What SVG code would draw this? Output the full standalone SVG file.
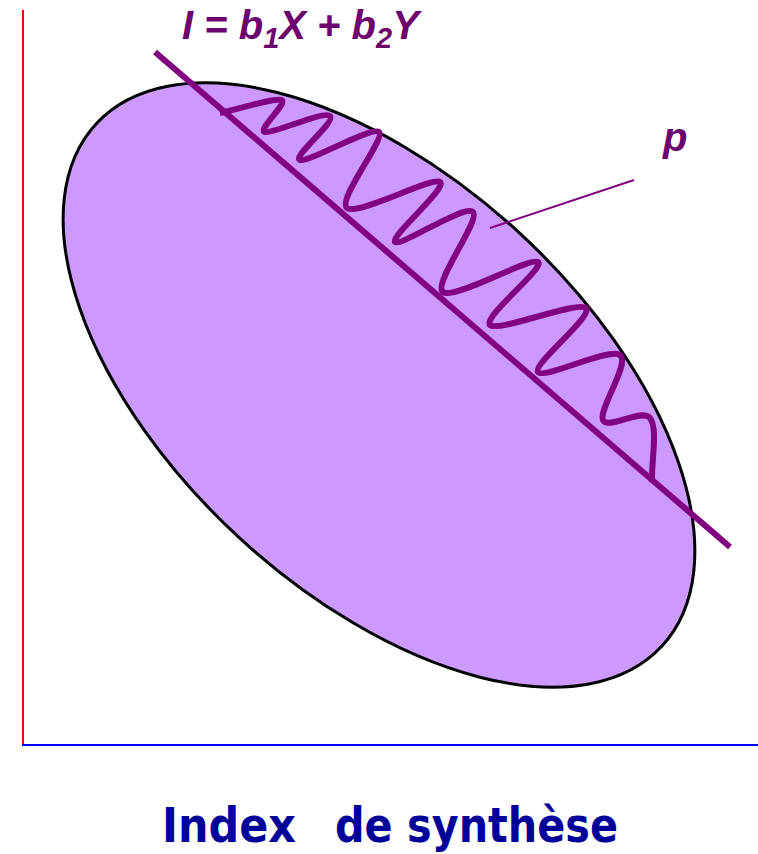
<svg xmlns="http://www.w3.org/2000/svg" width="758" height="854" viewBox="0 0 758 854">
<style>
.axis-y{stroke:#ff0000;stroke-width:2;fill:none}
.axis-x{stroke:#0000ff;stroke-width:2;fill:none}
.cloud{fill:#cc99ff;stroke:#000;stroke-width:3}
.purple{stroke:#800080;fill:none;stroke-linecap:butt}
.lbl{font-family:"Liberation Sans",Arial,sans-serif;font-weight:bold;font-style:italic;fill:#6e006e}
.title{font-family:"DejaVu Sans","Liberation Sans",sans-serif;font-weight:bold;fill:#000099}
</style>
<rect width="758" height="854" fill="#fff"/>
<g id="axes">
<line class="axis-y" x1="23" y1="10" x2="23" y2="745"/>
<line class="axis-x" x1="22" y1="745" x2="758" y2="745"/>
</g>
<g id="cloud">
<ellipse class="cloud" cx="379" cy="385" rx="385" ry="207" transform="rotate(42.7 379 385)"/>
</g>
<g id="connectors">
<line class="purple" x1="155" y1="52" x2="730" y2="547" stroke-width="6"/>
<path class="purple" stroke-width="6" stroke-linejoin="round" d="M220,113 C240,109 272.5,97.8 281,100 C289.5,102.2 256.7,129.8 265,132 C273.3,134.2 324.2,110 330,116 C335.8,122 292,156.8 300,160 C308,163.2 372.2,125.3 379,132 C385.8,138.7 336.7,199.8 347,208 C357.3,216.2 432,176.3 440,182 C448,187.7 389.5,237 395,242 C400.5,247 465,203.7 473,212 C481,220.3 432.2,283.7 443,292 C453.8,300.3 530.2,256.5 538,262 C545.8,267.5 482,317.3 490,325 C498,332.7 578,300.2 586,308 C594,315.8 532.3,364.2 538,372 C543.7,379.8 609.2,347 620,355 C630.8,363 598,409.5 603,420 C608,430.5 641.8,407.7 650,418 C658.2,428.3 651.3,461 652,482"/>
<line class="purple" x1="490" y1="228" x2="634" y2="180" stroke-width="2"/>
</g>
<g id="equation">
<text class="lbl" x="182" y="39" font-size="40">I = b<tspan font-size="29" dy="9">1</tspan><tspan dy="-9">X + b</tspan><tspan font-size="29" dy="9">2</tspan><tspan dy="-9">Y</tspan></text>
</g>
<g id="p-label">
<text class="lbl" x="663" y="151" font-size="40">p</text>
</g>
<g id="title">
<text class="title" x="162" y="842" font-size="48" textLength="134" lengthAdjust="spacingAndGlyphs">Index</text>
<text class="title" x="335" y="842" font-size="48" textLength="283" lengthAdjust="spacingAndGlyphs">de synthèse</text>
</g>
</svg>
